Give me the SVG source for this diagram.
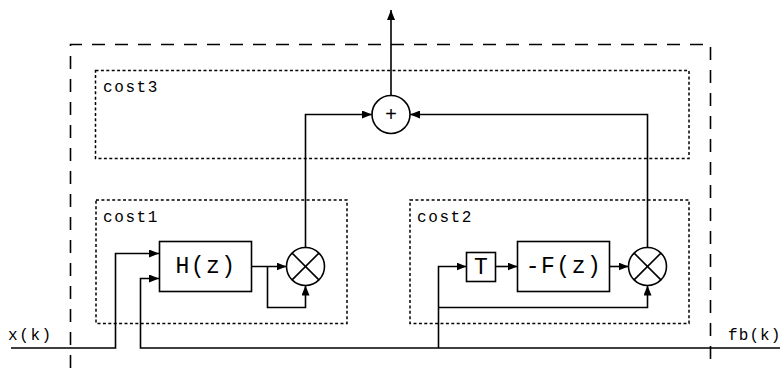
<svg xmlns="http://www.w3.org/2000/svg" width="783" height="368" viewBox="0 0 783 368">
<defs>
<marker id="arr" viewBox="0 0 10 8" refX="10" refY="4" markerWidth="10" markerHeight="8" markerUnits="userSpaceOnUse" orient="auto">
<path d="M0,0 L10,4 L0,8 Z" fill="#000"/>
</marker>
<style>
.outer{fill:none;stroke:#000;stroke-width:1.6;stroke-dasharray:13,10}
.group{fill:none;stroke:#000;stroke-width:1.5;stroke-dasharray:3,2.4}
.blk{fill:#fff;stroke:#000;stroke-width:1.6}
.wire{fill:none;stroke:#000;stroke-width:1.6}
.arrow{marker-end:url(#arr)}
.lbl{font-family:"Liberation Mono","DejaVu Sans Mono",monospace;font-size:16px;letter-spacing:1.6px;fill:#000}
.big{font-family:"Liberation Mono","DejaVu Sans Mono",monospace;font-size:23px;letter-spacing:1.5px;fill:#000;text-anchor:middle;dominant-baseline:central}
</style>
</defs>
<path class="outer" d="M70.5,368 V44.5 H710.5 V368"/>
<g id="cost3">
<rect class="group" x="95.5" y="70.5" width="593.5" height="88"/>
<text class="lbl" x="103" y="91.5">cost3</text>
</g>
<g id="cost1">
<rect class="group" x="96" y="200" width="251" height="123.5"/>
<text class="lbl" x="103" y="222">cost1</text>
</g>
<g id="cost2">
<rect class="group" x="410" y="200" width="279" height="123.5"/>
<text class="lbl" x="417" y="222">cost2</text>
</g>
<text class="lbl" x="8" y="340">x(k)</text>
<text class="lbl" x="728" y="340" style="letter-spacing:1.1px">fb(k)</text>
<g id="connectors">
<path class="wire arrow" d="M11,348 H115.5 V253.5 H159"/>
<path class="wire arrow" d="M780,348 H140.5 V278.5 H159"/>
<path class="wire arrow" d="M438.5,348 V266.5 H466.5"/>
<path class="wire arrow" d="M438.5,307.5 H647.5 V285.5"/>
<path class="wire arrow" d="M251.5,266.5 H286.5"/>
<path class="wire arrow" d="M267.5,266.5 V307.5 H305.5 V285.5"/>
<path class="wire arrow" d="M495.5,266.5 H517.5"/>
<path class="wire arrow" d="M609.5,266.5 H628.5"/>
<path class="wire arrow" d="M305.5,247.5 V114.5 H372"/>
<path class="wire arrow" d="M647.5,247.5 V114.5 H410"/>
<path class="wire arrow" d="M391,95.5 V10"/>
</g>
<g id="sum">
<circle class="blk" cx="391" cy="114.5" r="19"/>
<text class="big" x="391" y="115" style="font-size:20px;letter-spacing:0">+</text>
</g>
<g id="H">
<rect class="blk" x="159.5" y="241.5" width="92" height="50"/>
<text class="big" x="206" y="266.5">H(z)</text>
</g>
<g id="mult1">
<circle class="blk" cx="305.5" cy="266.5" r="19"/>
<path class="wire" d="M292.1,253.1 L318.9,279.9 M318.9,253.1 L292.1,279.9"/>
</g>
<g id="T">
<rect class="blk" x="466.5" y="252.5" width="29" height="29"/>
<text class="big" x="481" y="267.5" style="letter-spacing:0">T</text>
</g>
<g id="F">
<rect class="blk" x="517.5" y="241.5" width="92" height="50"/>
<text class="big" x="564" y="266.5">-F(z)</text>
</g>
<g id="mult2">
<circle class="blk" cx="647.5" cy="266.5" r="19"/>
<path class="wire" d="M634.1,253.1 L660.9,279.9 M660.9,253.1 L634.1,279.9"/>
</g>
</svg>
